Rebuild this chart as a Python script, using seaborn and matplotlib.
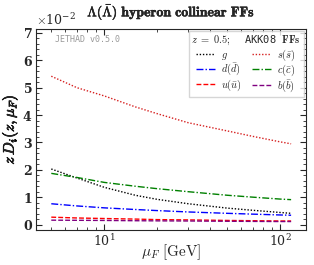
import matplotlib
matplotlib.use("Agg")
from matplotlib import pyplot as plt
from matplotlib import ticker
from matplotlib import patheffects
import seaborn as sns
import pandas as pd

# factorisation scale [GeV]
mu_F = [5, 7, 10, 15, 20, 30, 50, 70, 100, 115]

# z D_i(z, mu_F) at z = 0.5, AKK08
g = [2.03e-2, 1.70e-2, 1.36e-2, 1.07e-2, 0.92e-2, 0.76e-2, 0.60e-2, 0.52e-2, 0.44e-2, 0.41e-2]
s = [5.42e-2, 5.00e-2, 4.70e-2, 4.30e-2, 4.05e-2, 3.72e-2, 3.42e-2, 3.22e-2, 3.02e-2, 2.95e-2]
d = [0.76e-2, 0.68e-2, 0.61e-2, 0.55e-2, 0.51e-2, 0.46e-2, 0.41e-2, 0.38e-2, 0.35e-2, 0.34e-2]
c = [1.87e-2, 1.72e-2, 1.54e-2, 1.40e-2, 1.31e-2, 1.20e-2, 1.07e-2, 1.00e-2, 0.93e-2, 0.91e-2]
u = [0.27e-2, 0.24e-2, 0.22e-2, 0.20e-2, 0.18e-2, 0.17e-2, 0.15e-2, 0.14e-2, 0.13e-2, 0.13e-2]
b = [0.16e-2, 0.155e-2, 0.15e-2, 0.14e-2, 0.135e-2, 0.13e-2, 0.12e-2, 0.115e-2, 0.11e-2, 0.11e-2]

dot = (0, (1, 1.3))
dashdot = (0, (5, 1.5, 1, 1.5))
dash = (0, (3.5, 1.5))

# column-wise legend order: g, d, u | s, c, b
series = [
    (r"$g$", g, "black", dot),
    (r"$d(\bar{d})$", d, "blue", dashdot),
    (r"$u(\bar{u})$", u, "red", dash),
    (r"$s(\bar{s})$", s, "#d62020", dot),
    (r"$c(\bar{c})$", c, "green", dashdot),
    (r"$b(\bar{b})$", b, "purple", dash),
]

sns.set_style("ticks")
plt.rcParams["font.family"] = ["DejaVu Serif"]
plt.rcParams["mathtext.fontset"] = "cm"

fig = plt.figure(figsize=(3.14, 2.65), dpi=100)
ax = fig.add_axes([0.115, 0.132, 0.86, 0.759])

for label, vals, col, ls in series:
    df = pd.DataFrame({"mu": mu_F, "val": vals})
    sns.lineplot(data=df, x="mu", y="val", ax=ax, color=col, linestyle=ls,
                 linewidth=1.0, label=label)

ax.set_xscale("log")
ax.set_xlim(4.1, 140)
ax.set_ylim(-0.002, 0.0715)

fmt = ticker.ScalarFormatter(useMathText=True)
fmt.set_powerlimits((-2, -2))
ax.yaxis.set_major_formatter(fmt)
ax.yaxis.set_major_locator(ticker.MultipleLocator(0.01))
ax.yaxis.set_minor_locator(ticker.MultipleLocator(0.002))
ax.yaxis.get_offset_text().set_fontsize(9)

ax.tick_params(which="both", direction="in", top=True, right=True, labelsize=9, pad=2.5)
ax.tick_params(which="major", length=4)
ax.tick_params(which="minor", length=2)
for lab in ax.get_yticklabels():
    lab.set_fontweight("bold")

bold = [patheffects.withStroke(linewidth=0.5, foreground="black")]
ax.set_xlabel(r"$\mu_F\ [\mathrm{GeV}]$", fontsize=11, labelpad=-5)
ax.set_ylabel(r"$z\,D_i(z,\mu_F)$", fontsize=11, labelpad=2, path_effects=bold)
ax.set_title(r"$\mathbf{\Lambda(\bar{\Lambda})\ hyperon\ collinear\ FFs}$", fontsize=10, pad=9,
             path_effects=[patheffects.withStroke(linewidth=0.3, foreground="black")])

ax.text(0.07, 0.945, "JETHAD v0.5.0", transform=ax.transAxes, fontsize=6,
        family="DejaVu Sans Mono", color="#999999", va="center")

leg = ax.legend(ncol=2, fontsize=7.5, loc="upper right", frameon=True,
                title=r"$z\ =\ \mathbf{0.5;}$  AKK08 $\mathbf{FFs}$",
                handlelength=1.8, handletextpad=0.6, columnspacing=1.0, borderpad=0.25,
                labelspacing=0.0, borderaxespad=0.25, fancybox=False, edgecolor="#cccccc")
leg.get_title().set_family("DejaVu Sans Mono")
leg.get_title().set_fontsize(7.5)

fig.savefig("out.png", dpi=100)
